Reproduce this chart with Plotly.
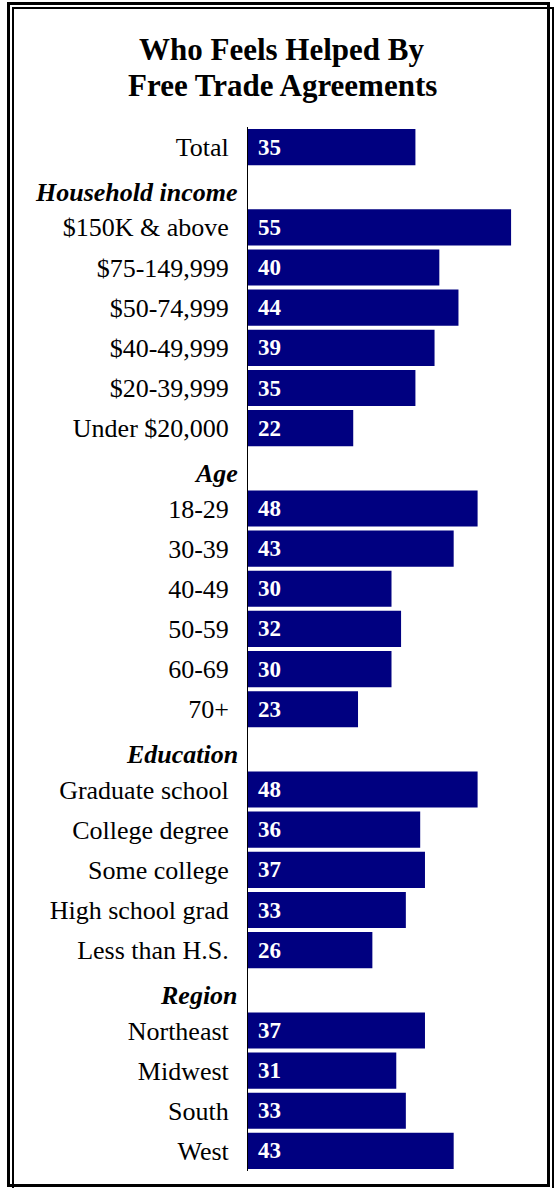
import plotly.graph_objects as go

# ---- data ----
categories = [
    "Total",
    "Household income",
    "$150K & above", "$75-149,999", "$50-74,999", "$40-49,999", "$20-39,999", "Under $20,000",
    "Age",
    "18-29", "30-39", "40-49", "50-59", "60-69", "70+",
    "Education",
    "Graduate school", "College degree", "Some college", "High school grad", "Less than H.S.",
    "Region",
    "Northeast", "Midwest", "South", "West",
]
values = [
    35,
    None,
    55, 40, 44, 39, 35, 22,
    None,
    48, 43, 30, 32, 30, 23,
    None,
    48, 36, 37, 33, 26,
    None,
    37, 31, 33, 43,
]
headers = ["Household income", "Age", "Education", "Region"]
title_lines = ["Who Feels Helped By", "Free Trade Agreements"]

# ---- layout geometry ----
W, H = 554, 1188
ML, MR, MT, MB = 248, 19, 127, 17
PW, PH = W - ML - MR, H - MT - MB


def px_x(px):
    return (px - ML) / PW


def px_y(py):
    return (H - MB - py) / PH


SERIF = "Liberation Serif, Times New Roman, serif"
NAVY = "#000080"

fig = go.Figure()
fig.add_trace(go.Bar(
    x=values,
    y=categories,
    orientation="h",
    marker=dict(color=NAVY, line=dict(width=0)),
    hoverinfo="skip",
))

annotations = []
# value labels inside bars
for c, v in zip(categories, values):
    if v is None:
        continue
    annotations.append(dict(
        x=0, y=c, xref="x", yref="y", text=str(v), showarrow=False,
        xanchor="left", yanchor="middle", xshift=8,
        font=dict(family=SERIF, size=23, color="white", weight="bold"),
    ))
# section headers
for hd in headers:
    annotations.append(dict(
        x=0, y=hd, xref="paper", yref="y", text="<b><i>" + hd + "</i></b>",
        showarrow=False, xanchor="right", yanchor="middle", xshift=-8, yshift=-5,
        font=dict(family=SERIF, size=26, color="black"),
    ))
# title
for line, cy in zip(title_lines, [50, 85]):
    annotations.append(dict(
        x=px_x(282), y=px_y(cy), xref="paper", yref="paper", text="<b>" + line + "</b>",
        showarrow=False, xanchor="center", yanchor="middle",
        font=dict(family=SERIF, size=31, color="black"),
    ))

shapes = [
    dict(type="rect", xref="paper", yref="paper",
         x0=px_x(8.5), x1=px_x(548.5), y0=px_y(3.5), y1=px_y(1185.5),
         line=dict(color="black", width=3)),
    dict(type="rect", xref="paper", yref="paper",
         x0=px_x(13), x1=px_x(553), y0=px_y(8), y1=px_y(1192),
         line=dict(color="black", width=2)),
]

ticktext = ["" if c in headers else c for c in categories]

fig.update_layout(
    width=W, height=H,
    margin=dict(l=ML, r=MR, t=MT, b=MB, pad=0),
    paper_bgcolor="white", plot_bgcolor="white",
    showlegend=False,
    bargap=0.1,
    annotations=annotations,
    shapes=shapes,
    xaxis=dict(range=[0, 60], visible=False, fixedrange=True),
    yaxis=dict(
        autorange="reversed",
        tickmode="array", tickvals=categories, ticktext=ticktext,
        showline=True, linecolor="black", linewidth=1,
        showgrid=False, zeroline=False,
        ticks="outside", ticklen=13, tickcolor="rgba(0,0,0,0)",
        tickfont=dict(family=SERIF, size=26, color="black"),
        fixedrange=True,
    ),
)

fig.write_html(
    "out.html",
    config={"displayModeBar": False, "staticPlot": True},
    post_script="document.body.style.margin='0';document.body.style.overflow='hidden';",
)
